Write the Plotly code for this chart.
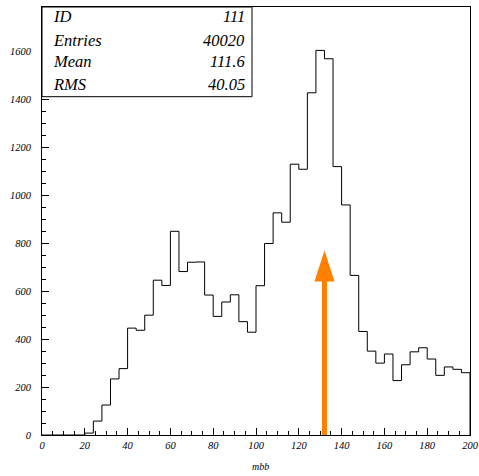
import plotly.graph_objects as go

# ---- data ----
bin_edges = list(range(0, 204, 4))
counts = [0, 0, 0, 0, 0, 8, 58, 125, 234, 277,
          446, 437, 500, 646, 624, 850, 682, 721, 722, 584,
          495, 555, 585, 473, 429, 623, 799, 927, 888, 1130,
          1109, 1428, 1605, 1570, 1120, 960, 666, 432, 350, 300,
          338, 227, 293, 347, 364, 317, 249, 284, 274, 260]
stats_labels = ["ID", "Entries", "Mean", "RMS"]
stats_values = ["111", "40020", "111.6", "40.05"]
x_title = "mbb"
arrow_x = 132
arrow_tip = 770

# ---- geometry ----
W, H = 479, 476
ml, mr, mt, mb = 42, 9, 7, 41
x_range = [0, 200]
y_range = [0, 1786]
pw = W - ml - mr
ph = H - mt - mb
ux = (x_range[1] - x_range[0]) / pw   # data units per pixel
uy = (y_range[1] - y_range[0]) / ph

font_family = "Liberation Serif"

xs = [bin_edges[0]] + bin_edges + [bin_edges[-1]]
ys = [0] + counts + [counts[-1], 0]

fig = go.Figure()
fig.add_trace(go.Scatter(
    x=xs, y=ys, mode="lines", line=dict(shape="hv", color="black", width=1),
    hoverinfo="skip", showlegend=False))

# arrow
head_h = 31 * uy
head_w = 20 * ux
shapes = [
    dict(type="line", xref="x", yref="y", x0=arrow_x, x1=arrow_x,
         y0=0, y1=arrow_tip - head_h + 2 * uy,
         line=dict(color="#ff8000", width=5)),
    dict(type="path", xref="x", yref="y",
         path=f"M {arrow_x - head_w/2} {arrow_tip - head_h} L {arrow_x + head_w/2} {arrow_tip - head_h} L {arrow_x} {arrow_tip} Z",
         fillcolor="#ff8000", line=dict(color="#ff8000", width=0)),
    # stats box
    dict(type="rect", xref="paper", yref="paper", x0=0, x1=(252 - ml) / pw,
         y0=(H - mb - 96.7) / ph, y1=1, line=dict(color="black", width=1),
         fillcolor="white", layer="above"),
]

annotations = []
row_y = [17, 40, 62, 84]
sfont = dict(family=font_family, size=16.5, style="italic", color="black")
for lab, val, py in zip(stats_labels, stats_values, row_y):
    yp = (H - mb - py) / ph
    annotations.append(dict(xref="paper", yref="paper", x=(51 - ml) / pw, y=yp,
                            text=lab, showarrow=False, xanchor="left", yanchor="middle",
                            font=sfont))
    annotations.append(dict(xref="paper", yref="paper", x=(247 - ml) / pw, y=yp,
                            text=val, showarrow=False, xanchor="right", yanchor="middle",
                            font=sfont))
annotations.append(dict(xref="paper", yref="paper", x=0.5, y=0, yshift=-31, xshift=4,
                        text=x_title, showarrow=False, xanchor="center", yanchor="middle",
                        font=dict(family=font_family, size=10, style="italic", color="black")))

tickfont = dict(family=font_family, size=10.5, style="italic", color="black")
fig.update_layout(
    width=W, height=H,
    font=dict(family=font_family),
    margin=dict(l=ml, r=mr, t=mt, b=mb, pad=0, autoexpand=False),
    paper_bgcolor="white", plot_bgcolor="white",
    shapes=shapes, annotations=annotations,
    xaxis=dict(range=x_range, showgrid=False, zeroline=False, showline=True,
               linecolor="black", linewidth=1, mirror=True, automargin=False,
               ticks="inside", ticklen=7, tickcolor="black", dtick=20, tick0=0,
               minor=dict(ticks="inside", ticklen=4, dtick=5, tickcolor="black", showgrid=False),
               tickfont=tickfont, ticklabelstandoff=0),
    yaxis=dict(range=y_range, showgrid=False, zeroline=False, showline=True,
               linecolor="black", linewidth=1, mirror=True, automargin=False,
               ticks="inside", ticklen=7, tickcolor="black", dtick=200, tick0=0,
               minor=dict(ticks="inside", ticklen=4, dtick=50, tickcolor="black", showgrid=False),
               tickfont=tickfont, ticklabelstandoff=8),
)

fig.write_html("out.html", config={"displayModeBar": False},
               post_script="document.body.style.margin='0';")
